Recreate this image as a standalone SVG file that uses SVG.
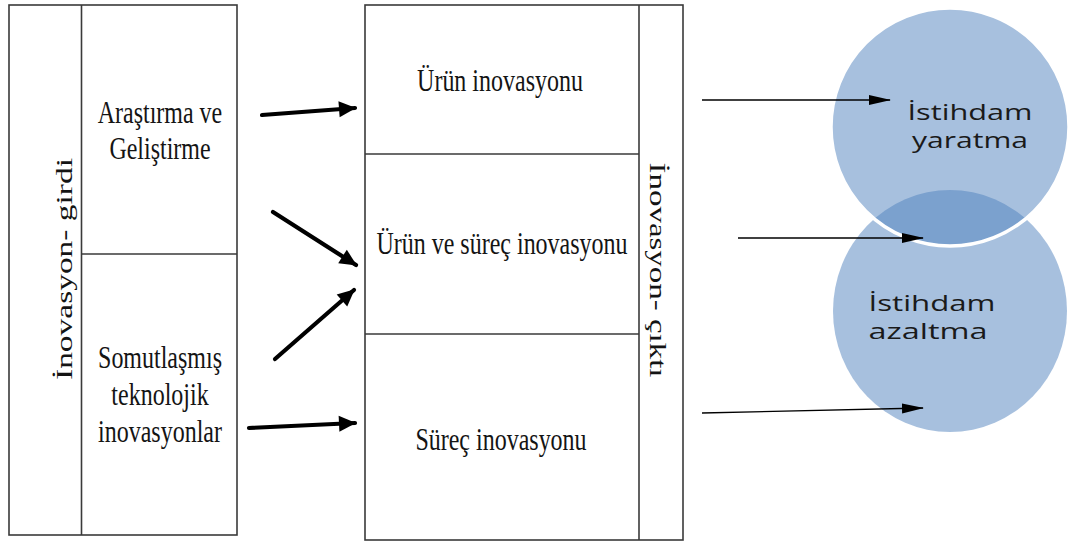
<svg xmlns="http://www.w3.org/2000/svg" width="1068" height="542" viewBox="0 0 1068 542">
  <style>
    .frame { fill: #ffffff; stroke: #3a3a3a; stroke-width: 1.6; }
    .rule { stroke: #3a3a3a; stroke-width: 1.6; fill: none; }
    .serif { font-family: "Liberation Serif", "Times New Roman", serif; font-size: 24px; fill: #141414; text-anchor: middle; }
    .sans { font-family: "Open Sans", "Noto Sans", sans-serif; font-size: 22px; fill: #1a1a1a; text-anchor: middle; }
    .thick { stroke: #000000; stroke-width: 4.2; stroke-linecap: round; fill: none; }
    .thin { stroke: #000000; stroke-width: 1.4; fill: none; }
    .circle { fill: #4f81bd; fill-opacity: 0.5; }
  </style>
  <defs>
    <marker id="headThick" markerUnits="userSpaceOnUse" markerWidth="20" markerHeight="20" viewBox="0 0 20 20" refX="18" refY="10" orient="auto">
      <path d="M2,2 L19,10 L2,18 Z" fill="#000000"/>
    </marker>
    <marker id="headThin" markerUnits="userSpaceOnUse" markerWidth="22" markerHeight="14" viewBox="0 0 22 14" refX="21" refY="7" orient="auto">
      <path d="M0,2 L22,7 L0,12 Z" fill="#000000"/>
    </marker>
  </defs>

  <!-- Input block; the serif labels are set tall (vertical scale 1.33) -->
  <g id="input">
    <rect class="frame" x="9" y="5" width="228" height="530"/>
    <line class="rule" x1="81.5" y1="5" x2="81.5" y2="535"/>
    <line class="rule" x1="81.5" y1="254" x2="237" y2="254"/>
    <text class="serif" transform="translate(72,269) rotate(-90)" textLength="222" lengthAdjust="spacingAndGlyphs">İnovasyon- girdi</text>
  </g>
  <g id="rd">
    <text class="serif" transform="translate(160,123) scale(1,1.33)">Araştırma ve</text>
    <text class="serif" transform="translate(160,159) scale(1,1.33)">Geliştirme</text>
  </g>
  <g id="embodied">
    <text class="serif" transform="translate(160,368) scale(1,1.33)">Somutlaşmış</text>
    <text class="serif" transform="translate(160,405) scale(1,1.33)">teknolojik</text>
    <text class="serif" transform="translate(160,442) scale(1,1.33)">inovasyonlar</text>
  </g>

  <!-- Output block -->
  <g id="output">
    <rect class="frame" x="365" y="5" width="318" height="535"/>
    <line class="rule" x1="639" y1="5" x2="639" y2="540"/>
    <line class="rule" x1="365" y1="154" x2="639" y2="154"/>
    <line class="rule" x1="365" y1="334" x2="639" y2="334"/>
    <text class="serif" transform="translate(650,270) rotate(90)" textLength="215" lengthAdjust="spacingAndGlyphs">İnovasyon- çıktı</text>
  </g>
  <g id="product">
    <text class="serif" transform="translate(500,91) scale(1,1.33)">Ürün inovasyonu</text>
  </g>
  <g id="product-process">
    <text class="serif" transform="translate(502,254) scale(1,1.33)">Ürün ve süreç inovasyonu</text>
  </g>
  <g id="process">
    <text class="serif" transform="translate(501,450) scale(1,1.33)">Süreç inovasyonu</text>
  </g>

  <!-- Employment effects -->
  <g id="job-loss">
    <ellipse class="circle" cx="950" cy="311" rx="117" ry="121"/>
    <text class="sans" x="932" y="311" textLength="127" lengthAdjust="spacingAndGlyphs">İstihdam</text>
    <text class="sans" x="928" y="339" textLength="119" lengthAdjust="spacingAndGlyphs">azaltma</text>
  </g>
  <g id="job-creation">
    <circle class="circle" cx="950" cy="127" r="119" stroke="#ffffff" stroke-width="3.5"/>
    <text class="sans" x="970" y="120" textLength="125" lengthAdjust="spacingAndGlyphs">İstihdam</text>
    <text class="sans" x="970" y="148" textLength="116" lengthAdjust="spacingAndGlyphs">yaratma</text>
  </g>

  <!-- Connectors -->
  <g id="connectors">
    <line class="thick" x1="262" y1="115" x2="355" y2="108" marker-end="url(#headThick)"/>
    <line class="thick" x1="273" y1="212" x2="356" y2="265" marker-end="url(#headThick)"/>
    <line class="thick" x1="275" y1="359" x2="354" y2="290" marker-end="url(#headThick)"/>
    <line class="thick" x1="249" y1="428" x2="355" y2="423" marker-end="url(#headThick)"/>
    <line class="thin" x1="702" y1="100" x2="890" y2="100" marker-end="url(#headThin)"/>
    <line class="thin" x1="738" y1="238" x2="923" y2="238" marker-end="url(#headThin)"/>
    <line class="thin" x1="702" y1="413" x2="923" y2="408" marker-end="url(#headThin)"/>
  </g>
</svg>
